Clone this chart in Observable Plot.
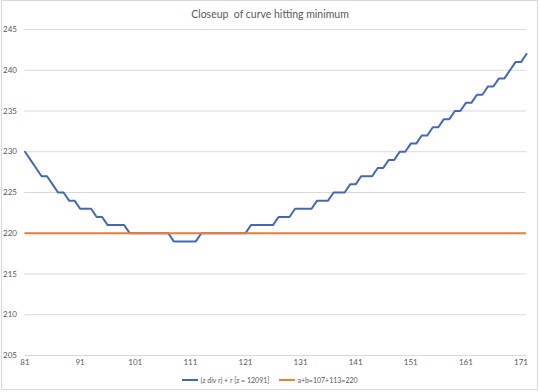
<!DOCTYPE html>
<html>
<head>
<meta charset="utf-8">
<script src="https://cdn.jsdelivr.net/npm/d3@7"></script>
<script src="https://cdn.jsdelivr.net/npm/@observablehq/plot@0.6"></script>
<style>
  html, body { margin: 0; padding: 0; background: #fff; }
  #frame { position: relative; width: 540px; height: 392px; overflow: hidden; font-family: Lato, "Open Sans", sans-serif; color: #595959; }
  #border { position: absolute; left: 1px; top: 0px; width: 537px; height: 390px; box-sizing: border-box; border: 1px solid #d9d9d9; pointer-events: none; }
  #title { height: 16px; padding-top: 6px; line-height: 16px; text-align: center; font-size: 10.5px; white-space: pre; }
  #legend { display: flex; justify-content: center; align-items: center; height: 16px; font-size: 7px; margin-top: 0px; }
  .item { display: flex; align-items: center; margin: 0 5px; }
  .sw { width: 16px; height: 2px; margin-right: 2px; }
  svg { display: block; overflow: visible; }
</style>
</head>
<body>
<div id="frame">
  <div id="title">Closeup  of curve hitting minimum</div>
  <div id="chart"></div>
  <div id="legend"></div>
  <div id="border"></div>
</div>
<script>
// categories r = 81..172
const rValues = [81,82,83,84,85,86,87,88,89,90,91,92,93,94,95,96,97,98,99,100,
  101,102,103,104,105,106,107,108,109,110,111,112,113,114,115,116,117,118,119,120,
  121,122,123,124,125,126,127,128,129,130,131,132,133,134,135,136,137,138,139,140,
  141,142,143,144,145,146,147,148,149,150,151,152,153,154,155,156,157,158,159,160,
  161,162,163,164,165,166,167,168,169,170,171,172];
// (z div r) + r, z = 12091
const curveValues = [230,229,228,227,227,226,225,225,224,224,223,223,223,222,222,221,221,221,221,220,
  220,220,220,220,220,220,220,219,219,219,219,219,220,220,220,220,220,220,220,220,
  220,221,221,221,221,221,222,222,222,223,223,223,223,224,224,224,225,225,225,226,
  226,227,227,227,228,228,229,229,230,230,231,231,232,232,233,233,234,234,235,235,
  236,236,237,237,238,238,239,239,240,241,241,242];
// a+b = 107+113 = 220
const minimumValue = [220];
const xTicks = [81,91,101,111,121,131,141,151,161,171];
const yTicks = [205,210,215,220,225,230,235,240,245];
const seriesNames = ["(z div r) + r [z = 12091]", "a+b=107+113=220"];
const seriesColors = ["#4368B8", "#ED7D31"];

const curve = rValues.map((r, i) => ({r, v: curveValues[i]}));

const chart = Plot.plot({
  width: 540,
  height: 350,
  marginTop: 7,
  marginBottom: 17,
  marginLeft: 24.5,
  marginRight: 14,
  style: {fontFamily: "Lato, 'Open Sans', sans-serif", fontSize: "8px", color: "#595959", background: "transparent", overflow: "visible"},
  x: {domain: [81, 172], ticks: xTicks, tickSize: 0, tickPadding: 4, label: null, tickFormat: d => String(d)},
  y: {domain: [205, 245], ticks: yTicks, tickSize: 0, tickPadding: 8, label: null},
  marks: [
    Plot.gridY(yTicks, {stroke: "#d9d9d9", strokeOpacity: 1, strokeWidth: 1}),
    Plot.lineY(curve, {x: "r", y: "v", stroke: seriesColors[0], strokeWidth: 2}),
    Plot.ruleY(minimumValue, {x1: d3.min(rValues), x2: d3.max(rValues), stroke: seriesColors[1], strokeWidth: 2})
  ]
});
document.getElementById("chart").appendChild(chart);

const legend = document.getElementById("legend");
seriesNames.forEach((name, i) => {
  const item = document.createElement("div");
  item.className = "item";
  const sw = document.createElement("div");
  sw.className = "sw";
  sw.style.background = seriesColors[i];
  const label = document.createElement("span");
  label.textContent = name;
  item.appendChild(sw);
  item.appendChild(label);
  legend.appendChild(item);
});
</script>
</body>
</html>
